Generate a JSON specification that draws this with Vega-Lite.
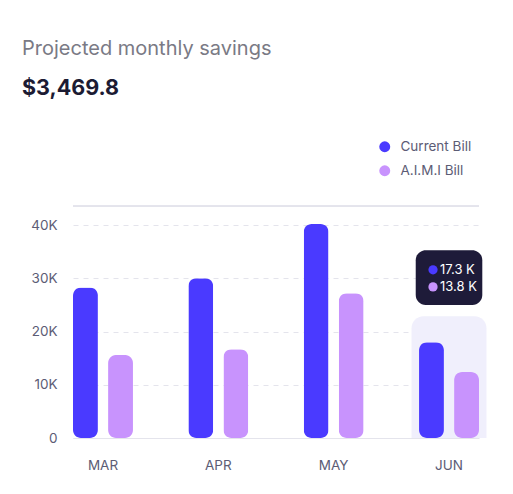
{
  "$schema": "https://vega.github.io/schema/vega-lite/v6.json",
  "autosize": "none",
  "padding": {"left": 73, "top": 206, "right": 34, "bottom": 56},
  "width": 406,
  "height": 232,
  "background": "#ffffff",
  "title": {
    "text": "Projected monthly savings",
    "subtitle": "$3,469.8",
    "anchor": "start",
    "frame": "group",
    "dx": -51,
    "offset": 41,
    "font": "Inter",
    "fontSize": 20,
    "fontWeight": 400,
    "color": "#7a7a85",
    "subtitleFont": "Inter",
    "subtitleFontSize": 21.5,
    "subtitleFontWeight": 700,
    "subtitleColor": "#1c1b33",
    "subtitlePadding": 19
  },
  "datasets": {
    "bills": [
      {"month": "MAR", "series": "Current Bill", "value": 28300, "tip": ""},
      {"month": "MAR", "series": "A.I.M.I Bill", "value": 15600, "tip": ""},
      {"month": "APR", "series": "Current Bill", "value": 30000, "tip": ""},
      {"month": "APR", "series": "A.I.M.I Bill", "value": 16700, "tip": ""},
      {"month": "MAY", "series": "Current Bill", "value": 40200, "tip": ""},
      {"month": "MAY", "series": "A.I.M.I Bill", "value": 27200, "tip": ""},
      {"month": "JUN", "series": "Current Bill", "value": 18000, "tip": "17.3 K"},
      {"month": "JUN", "series": "A.I.M.I Bill", "value": 12400, "tip": "13.8 K"}
    ]
  },
  "data": {"name": "bills"},
  "config": {
    "font": "Inter",
    "view": {"stroke": null},
    "axis": {
      "labelFont": "Inter",
      "labelFontSize": 13.5,
      "labelColor": "#5c5c75",
      "ticks": false,
      "title": null
    },
    "legend": {
      "labelFont": "Inter",
      "labelFontSize": 13.5,
      "labelColor": "#5c5c75",
      "symbolType": "circle",
      "symbolSize": 120,
      "symbolStrokeWidth": 0,
      "labelOffset": 9,
      "rowPadding": 9,
      "padding": 0,
      "title": null
    }
  },
  "encoding": {
    "x": {
      "field": "month",
      "type": "nominal",
      "sort": ["MAR", "APR", "MAY", "JUN"],
      "scale": {"paddingInner": 0.48, "paddingOuter": 0},
      "axis": {
        "labelAngle": 0,
        "labelPadding": 20,
        "domain": true,
        "domainColor": "#e4e4ec",
        "grid": false
      }
    }
  },
  "layer": [
    {
      "mark": {"type": "rule", "color": "#e4e4ec", "strokeWidth": 1},
      "encoding": {
        "x": null,
        "y": {
          "datum": 43600,
          "type": "quantitative",
          "scale": {"domain": [0, 43600], "nice": false},
          "axis": {
            "values": [0, 10000, 20000, 30000, 40000],
            "labelExpr": "datum.value == 0 ? '0' : datum.value / 1000 + 'K'",
            "labelPadding": 16,
            "domain": false,
            "grid": true,
            "gridColor": "#e4e4ec",
            "gridDash": [5, 5]
          }
        }
      }
    },
    {
      "transform": [{"filter": "datum.month == 'JUN' && datum.series == 'Current Bill'"}],
      "mark": {
        "type": "bar",
        "color": "#f0effc",
        "width": {"band": 1.25},
        "cornerRadiusTopLeft": 12,
        "cornerRadiusTopRight": 12
      },
      "encoding": {
        "y": {"datum": 22900, "type": "quantitative"},
        "y2": {"datum": 0}
      }
    },
    {
      "mark": {"type": "bar", "cornerRadius": 8},
      "encoding": {
        "xOffset": {
          "field": "series",
          "type": "nominal",
          "sort": ["Current Bill", "A.I.M.I Bill"],
          "scale": {"paddingInner": 0.29, "paddingOuter": 0}
        },
        "y": {"field": "value", "type": "quantitative"},
        "color": {
          "field": "series",
          "type": "nominal",
          "sort": ["Current Bill", "A.I.M.I Bill"],
          "scale": {
            "domain": ["Current Bill", "A.I.M.I Bill"],
            "range": ["#4a3aff", "#c893fd"]
          },
          "legend": {
            "orient": "none",
            "legendX": 305,
            "legendY": -66,
            "direction": "vertical"
          }
        }
      }
    },
    {
      "transform": [{"filter": "datum.month == 'JUN' && datum.series == 'Current Bill'"}],
      "mark": {
        "type": "bar",
        "color": "#1e1b39",
        "width": {"band": 1.11},
        "cornerRadius": 10
      },
      "encoding": {
        "y": {"datum": 35300, "type": "quantitative"},
        "y2": {"datum": 25000}
      }
    },
    {
      "transform": [{"filter": "datum.month == 'JUN' && datum.series == 'Current Bill'"}],
      "mark": {"type": "point", "filled": true, "size": 85, "opacity": 1, "xOffset": -16, "color": "#4a3aff"},
      "encoding": {"y": {"datum": 31600, "type": "quantitative"}}
    },
    {
      "transform": [{"filter": "datum.month == 'JUN' && datum.series == 'Current Bill'"}],
      "mark": {"type": "text", "align": "left", "baseline": "middle", "dx": -9, "color": "#ffffff", "fontSize": 13, "font": "Inter"},
      "encoding": {"y": {"datum": 31600, "type": "quantitative"}, "text": {"field": "tip"}}
    },
    {
      "transform": [{"filter": "datum.month == 'JUN' && datum.series == 'A.I.M.I Bill'"}],
      "mark": {"type": "point", "filled": true, "size": 85, "opacity": 1, "xOffset": -16, "color": "#c893fd"},
      "encoding": {"y": {"datum": 28400, "type": "quantitative"}}
    },
    {
      "transform": [{"filter": "datum.month == 'JUN' && datum.series == 'A.I.M.I Bill'"}],
      "mark": {"type": "text", "align": "left", "baseline": "middle", "dx": -9, "color": "#ffffff", "fontSize": 13, "font": "Inter"},
      "encoding": {"y": {"datum": 28400, "type": "quantitative"}, "text": {"field": "tip"}}
    }
  ]
}
